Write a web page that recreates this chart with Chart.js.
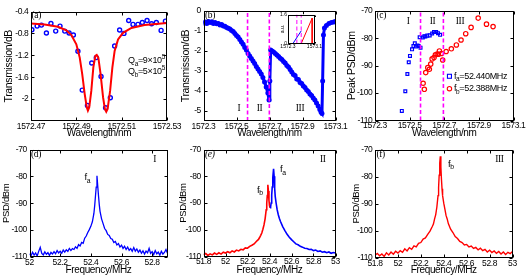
<!DOCTYPE html>
<html><head><meta charset="utf-8">
<script src="https://cdn.jsdelivr.net/npm/chart.js@4"></script>
<style>
html,body{margin:0;padding:0;background:#fff;}
body{width:530px;height:277px;position:relative;overflow:hidden;}
canvas{position:absolute;}
</style></head><body>
<canvas id="pa"></canvas><canvas id="pb"></canvas><canvas id="pbi"></canvas><canvas id="pc"></canvas>
<canvas id="pd"></canvas><canvas id="pe"></canvas><canvas id="pf"></canvas>
<script>
// ---------------- DATA ----------------
// (a) transmission dip, measured points and fit
const aWavelength = [1572.4704,1572.4727,1572.4746,1572.4768,1572.4788,1572.4809,1572.4828,1572.4849,1572.4868,1572.4887,1572.4907,1572.4926,1572.4949,1572.4968,1572.4988,1572.5009,1572.5029,1572.5050,1572.5069,1572.5091,1572.5110,1572.5131,1572.5150,1572.5172,1572.5191,1572.5212,1572.5232,1572.5253,1572.5274,1572.5293];
const aTransmission = [-0.733,-0.667,-0.648,-0.794,-0.618,-0.758,-0.667,-0.758,-0.794,-0.830,-1.127,-1.836,-2.115,-1.342,-1.242,-1.588,-2.158,-1.976,-1.030,-0.739,-0.800,-0.564,-0.636,-0.636,-0.600,-0.564,-0.624,-0.600,-0.745,-0.576];
const aFitWavelength = [1572.4700,1572.4760,1572.4819,1572.4856,1572.4878,1572.4900,1572.4915,1572.4926,1572.4937,1572.4946,1572.4951,1572.4957,1572.4966,1572.4975,1572.4984,1572.4990,1572.4997,1572.5007,1572.5018,1572.5026,1572.5032,1572.5038,1572.5049,1572.5059,1572.5069,1572.5084,1572.5106,1572.5143,1572.5201,1572.5300];
const aFitTransmission = [-0.618,-0.636,-0.679,-0.745,-0.830,-1.000,-1.242,-1.545,-1.909,-2.150,-2.210,-2.150,-1.850,-1.420,-1.210,-1.194,-1.240,-1.545,-1.970,-2.180,-2.230,-2.180,-1.850,-1.420,-1.120,-0.910,-0.790,-0.700,-0.648,-0.612];
const aXTicks = [1572.47,1572.49,1572.51,1572.53];
const aYTicks = [-2,-1.6,-1.2,-0.8,-0.4];

// (b) broad transmission sweep
const bWavelength = [1572.300,1572.310,1572.320,1572.330,1572.340,1572.350,1572.360,1572.370,1572.380,1572.390,1572.400,1572.410,1572.420,1572.430,1572.440,1572.450,1572.460,1572.470,1572.480,1572.490,1572.500,1572.510,1572.520,1572.530,1572.540,1572.550,1572.560,1572.570,1572.580,1572.590,1572.600,1572.610,1572.620,1572.630,1572.640,1572.650,1572.660,1572.670,1572.680,1572.690,1572.697,1572.702,1572.707,1572.715,1572.725,1572.735,1572.745,1572.755,1572.765,1572.775,1572.785,1572.795,1572.805,1572.815,1572.825,1572.835,1572.845,1572.855,1572.865,1572.875,1572.885,1572.895,1572.905,1572.915,1572.925,1572.935,1572.945,1572.955,1572.965,1572.975,1572.985,1572.995,1573.005,1573.012,1573.018,1573.022,1573.027,1573.033,1573.045,1573.060,1573.075,1573.090,1573.100];
const bTransmission = [-0.60,-0.55,-0.62,-0.52,-0.58,-0.54,-0.62,-0.58,-0.64,-0.62,-0.70,-0.68,-0.75,-0.76,-0.82,-0.86,-0.90,-0.98,-1.03,-1.12,-1.22,-1.30,-1.42,-1.55,-1.66,-1.82,-1.95,-2.12,-2.25,-2.38,-2.50,-2.62,-2.78,-2.90,-3.02,-3.15,-3.32,-3.55,-3.80,-4.10,-4.45,-3.50,-1.95,-2.00,-2.05,-2.12,-2.20,-2.28,-2.36,-2.42,-2.52,-2.60,-2.72,-2.80,-2.92,-3.05,-3.18,-3.22,-3.40,-3.42,-3.58,-3.62,-3.75,-3.82,-3.95,-4.02,-4.15,-4.22,-4.35,-4.45,-4.60,-4.75,-4.92,-5.05,-5.12,-3.50,-1.20,-0.85,-0.72,-0.62,-0.58,-0.55,-0.52];
const bBoundaries = [1572.567,1572.699];
const bXTicks = [1572.3,1572.5,1572.7,1572.9,1573.1];
const bYTicks = [-5,-4,-3,-2,-1,0];
// (b) inset
const insetBlueX = [1572.3,1572.45,1572.70];
const insetBlueY = [0,0,0.70];
const insetRedX = [1572.70,1573.03,1573.03];
const insetRedY = [0,1.40,0];
const insetXTicks = [1572.3,1573.1];
const insetYTicks = [0,1.6];

// (c) peak PSD of the two modes
const cWavelengthA = [1572.455,1572.475,1572.487,1572.495,1572.502,1572.514,1572.522,1572.530,1572.537,1572.545,1572.552,1572.558,1572.563,1572.576,1572.585,1572.591,1572.602,1572.616,1572.630,1572.641,1572.653,1572.664,1572.676];
const cPeakA = [-106.5,-99.3,-93.0,-88.7,-86.4,-84.0,-82.8,-81.8,-83.0,-82.6,-82.8,-79.6,-83.4,-79.7,-79.2,-79.3,-79.0,-78.9,-78.2,-77.7,-77.7,-78.1,-78.7];
const cWavelengthB = [1572.578,1572.585,1572.593,1572.605,1572.614,1572.622,1572.630,1572.641,1572.649,1572.659,1572.666,1572.672,1572.684,1572.691,1572.711,1572.741,1572.770,1572.797,1572.824,1572.855,1572.896,1572.944,1572.982];
const cPeakB = [-96.4,-98.6,-92.5,-90.7,-91.3,-89.4,-87.5,-87.0,-86.0,-85.7,-85.8,-84.6,-85.5,-87.9,-84.8,-83.8,-82.4,-80.6,-78.3,-76.0,-72.6,-74.8,-75.7];
const cBoundaries = [1572.563,1572.695];
const cXTicks = [1572.3,1572.5,1572.7,1572.9,1573.1];
const cYTicks = [-110,-100,-90,-80,-70];

// (d) spectrum, region I
const dFreq = [52.00,52.01,52.02,52.03,52.04,52.05,52.06,52.07,52.08,52.09,52.10,52.11,52.12,52.13,52.14,52.15,52.16,52.17,52.18,52.19,52.20,52.21,52.22,52.23,52.24,52.25,52.26,52.27,52.28,52.29,52.30,52.31,52.32,52.33,52.34,52.35,52.36,52.37,52.38,52.39,52.40,52.41,52.42,52.425,52.43,52.435,52.44,52.445,52.45,52.455,52.46,52.47,52.48,52.49,52.50,52.51,52.52,52.53,52.54,52.55,52.56,52.57,52.58,52.59,52.60,52.61,52.62,52.63,52.64,52.65,52.66,52.67,52.68,52.69,52.70,52.71,52.72,52.73,52.74,52.75,52.76,52.77,52.78,52.79,52.80,52.81,52.82,52.83,52.84,52.85,52.86,52.87,52.88,52.89,52.90];
const dPSD = [-108.8,-109.5,-108.2,-109.3,-108.5,-109.6,-107.9,-106.4,-108.7,-109.2,-108.1,-109.0,-108.4,-109.4,-108.3,-108.9,-108.0,-108.8,-107.6,-108.5,-107.9,-108.6,-107.4,-108.2,-107.3,-107.9,-106.8,-107.6,-106.9,-107.2,-106.2,-106.8,-105.4,-105.9,-104.6,-104.9,-103.0,-102.2,-100.9,-99.8,-98.6,-96.9,-93.8,-91.0,-87.5,-84.0,-79.8,-83.6,-87.2,-90.5,-93.0,-95.8,-97.6,-99.4,-100.2,-101.6,-102.0,-103.1,-103.4,-104.6,-104.2,-105.5,-105.0,-106.3,-105.6,-106.8,-106.0,-107.2,-106.3,-107.5,-106.9,-107.9,-106.5,-107.8,-107.0,-108.2,-107.4,-108.6,-107.7,-108.9,-107.8,-108.4,-106.8,-108.7,-108.0,-109.1,-107.6,-108.8,-108.2,-109.3,-107.9,-108.9,-108.3,-107.2,-108.6];
const dXTicks = [52,52.2,52.4,52.6,52.8];

// (e) spectrum, region II (red: f_b side, blue: f_a side)
const eFreqB = [51.80,51.82,51.84,51.86,51.88,51.90,51.92,51.94,51.96,51.98,52.00,52.02,52.04,52.06,52.08,52.10,52.12,52.14,52.16,52.18,52.20,52.22,52.24,52.26,52.28,52.30,52.31,52.32,52.33,52.34,52.35,52.36,52.37,52.375,52.38,52.385,52.39,52.395,52.40,52.405];
const ePSDB = [-109.3,-108.9,-109.6,-109.0,-109.4,-108.7,-109.2,-108.6,-109.1,-108.4,-108.7,-108.2,-108.6,-107.9,-108.3,-107.6,-107.9,-107.3,-107.5,-106.8,-106.9,-106.2,-105.8,-105.3,-104.4,-103.6,-102.9,-102.1,-101.2,-99.8,-98.2,-95.9,-92.5,-90.0,-87.2,-83.2,-85.5,-89.0,-91.0,-91.8];
const eFreqA = [52.405,52.41,52.415,52.42,52.425,52.43,52.437,52.442,52.447,52.452,52.46,52.47,52.48,52.49,52.50,52.52,52.54,52.56,52.58,52.60,52.62,52.64,52.66,52.68,52.70,52.72,52.74,52.76,52.78,52.80,52.82,52.84,52.86,52.88,52.90,52.92,52.94,52.96,52.98,53.00];
const ePSDA = [-91.8,-91.5,-90.0,-87.0,-84.0,-80.5,-77.2,-80.0,-84.5,-87.5,-90.0,-92.6,-94.4,-95.8,-96.9,-98.8,-100.3,-101.7,-102.8,-103.7,-104.5,-105.3,-105.6,-106.2,-106.5,-106.9,-107.0,-107.4,-107.3,-107.8,-107.6,-108.1,-107.9,-108.4,-108.2,-108.6,-108.3,-108.8,-108.5,-108.7];

// (f) spectrum, region III
const fFreq = [51.80,51.82,51.84,51.86,51.88,51.90,51.92,51.94,51.96,51.98,52.00,52.02,52.04,52.06,52.08,52.10,52.12,52.14,52.16,52.18,52.20,52.22,52.24,52.26,52.28,52.30,52.31,52.32,52.33,52.34,52.35,52.355,52.36,52.365,52.37,52.375,52.38,52.385,52.39,52.40,52.41,52.42,52.43,52.44,52.46,52.48,52.50,52.52,52.54,52.56,52.58,52.60,52.62,52.64,52.66,52.68,52.70,52.72,52.74,52.76,52.78,52.80,52.82,52.84,52.86,52.88,52.90,52.92,52.94,52.96,52.98,53.00];
const fPSD = [-109.0,-108.3,-109.2,-108.5,-109.4,-108.1,-108.9,-107.8,-108.6,-107.5,-108.2,-107.3,-107.9,-106.6,-107.4,-106.2,-106.8,-105.5,-105.9,-104.6,-104.3,-103.0,-102.6,-101.3,-100.1,-98.4,-97.5,-95.6,-94.0,-91.2,-87.0,-84.0,-79.5,-75.0,-72.5,-76.5,-81.0,-84.5,-87.0,-89.8,-92.0,-94.3,-95.6,-97.3,-99.4,-100.6,-102.1,-102.8,-103.9,-104.3,-105.2,-105.0,-105.9,-105.6,-106.5,-106.1,-107.0,-106.4,-107.3,-106.8,-107.8,-107.1,-108.0,-107.4,-108.3,-107.6,-108.5,-107.8,-108.7,-107.9,-108.4,-107.6];
const efXTicks = [51.8,52,52.2,52.4,52.6,52.8,53];
const psdYTicks = [-110,-100,-90,-80,-70];

// ---------------- STYLE / HELPERS ----------------
const SANS = "'Liberation Sans', Arial, Helvetica, sans-serif";
const SERIF = "'Liberation Serif', 'Times New Roman', serif";
const BLUE = '#0000ff', RED = '#ff0000', MAG = '#ff00ff';

const pts = (xs, ys) => xs.map((x, i) => ({x, y: ys[i]}));

function drawRich(ctx, px, py, t) {
  const size = t.size, fam = t.family, st = t.style || '';
  const fontFor = k => `${st} ${k === 'n' ? size : size * 0.72}px ${fam}`;
  let w = 0;
  t.parts.forEach(([s, k]) => { ctx.font = fontFor(k); w += ctx.measureText(s).width; });
  let cx = t.align === 'center' ? px - w / 2 : px;
  ctx.fillStyle = '#000'; ctx.textBaseline = 'middle'; ctx.textAlign = 'left';
  t.parts.forEach(([s, k]) => {
    ctx.font = fontFor(k);
    const dy = k === 'sub' ? size * 0.38 : (k === 'sup' ? -size * 0.38 : 0);
    ctx.fillText(s, cx, py + dy);
    cx += ctx.measureText(s).width;
  });
}

const framePlugin = {
  id: 'frame',
  beforeDraw(chart, args, o) {
    const c = chart.ctx;
    if ('letterSpacing' in c) c.letterSpacing = (o && o.ls) || '-0.35px';
    if (o && o.fill) {
      const a = chart.chartArea;
      c.save(); c.fillStyle = o.fill; c.fillRect(a.left, a.top, a.right - a.left, a.bottom - a.top); c.restore();
    }
  },
  afterDraw(chart, args, o) {
    const {ctx, chartArea: a, scales: {x, y}} = chart;
    ctx.save();
    ctx.strokeStyle = '#000'; ctx.lineWidth = 1; ctx.setLineDash([]);
    const L = Math.round(a.left) + 0.5, R = Math.round(a.right) - 0.5, T = Math.round(a.top) + 0.5, B = Math.round(a.bottom) - 0.5;
    ctx.strokeRect(L, T, R - L, B - T);
    const tl = (o && o.tick) || 3;
    ctx.beginPath();
    x.ticks.forEach(t => { const p = Math.round(x.getPixelForValue(t.value)) + 0.5; ctx.moveTo(p, B); ctx.lineTo(p, B - tl); ctx.moveTo(p, T); ctx.lineTo(p, T + tl); });
    y.ticks.forEach(t => { const p = Math.round(y.getPixelForValue(t.value)) + 0.5; ctx.moveTo(L, p); ctx.lineTo(L + tl, p); ctx.moveTo(R, p); ctx.lineTo(R - tl, p); });
    ctx.stroke();
    ((o && o.legend) || []).forEach(l => {
      const px = x.getPixelForValue(l.x), py = y.getPixelForValue(l.y);
      ctx.strokeStyle = l.color; ctx.lineWidth = 1.1;
      if (l.marker === 'rect') { ctx.strokeRect(px - 2, py - 2, 4, 4); }
      else { ctx.beginPath(); ctx.arc(px, py, 2.2, 0, Math.PI * 2); ctx.stroke(); }
    });
    ((o && o.texts) || []).forEach(t => drawRich(ctx, x.getPixelForValue(t.x), y.getPixelForValue(t.y), t));
    ctx.restore();
  }
};

function panel(id, rect, area, s) {
  const cv = document.getElementById(id);
  cv.width = rect[2]; cv.height = rect[3];
  Object.assign(cv.style, {left: rect[0] + 'px', top: rect[1] + 'px', width: rect[2] + 'px', height: rect[3] + 'px'});
  const yW = area[0] - rect[0], padTop = area[1] - rect[1], padRight = rect[0] + rect[2] - area[2], xH = rect[1] + rect[3] - area[3];
  const tf = s.tickFont || {family: SANS, size: 8.5, lineHeight: 1};
  const xts = s.xTitleSize || 10, yts = s.yTitleSize || 10.5;
  return new Chart(cv, {
    type: 'scatter',
    data: {datasets: s.datasets},
    options: {
      responsive: false, animation: false, devicePixelRatio: 1, events: [],
      layout: {padding: {left: 0, top: padTop, right: padRight, bottom: 0}},
      plugins: {legend: {display: false}, tooltip: {enabled: false}, frame: s.frame || {}},
      scales: {
        x: {
          type: 'linear', min: s.xMin, max: s.xMax, bounds: 'data',
          afterBuildTicks: sc => { sc.ticks = s.xTicks.map(v => ({value: v})); },
          afterFit: sc => { sc.height = xH; },
          grid: {display: false, drawTicks: false}, border: {display: false},
          ticks: {color: '#000', font: tf, padding: s.xTickPad ?? 1, maxRotation: 0, minRotation: 0, autoSkip: false, callback: v => String(v)},
          title: {display: !!s.xTitle, text: s.xTitle, color: '#000', font: {family: SANS, size: xts, lineHeight: 1},
                  padding: {top: 0, bottom: s.xTitle ? rect[1] + rect[3] - s.xTitleY - xts / 2 : 0}}
        },
        y: {
          type: 'linear', min: s.yMin, max: s.yMax, bounds: 'data',
          afterBuildTicks: sc => { sc.ticks = s.yTicks.map(v => ({value: v})); },
          afterFit: sc => { sc.width = yW; },
          grid: {display: false, drawTicks: false}, border: {display: false},
          ticks: {color: '#000', font: tf, padding: s.yTickPad ?? 2.5, autoSkip: false, callback: v => String(v)},
          title: {display: !!s.yTitle, text: s.yTitle, color: '#000', font: {family: SANS, size: yts, lineHeight: 1},
                  padding: {top: s.yTitle ? s.yTitleX - rect[0] - yts / 2 : 0, bottom: 0}}
        }
      }
    },
    plugins: [framePlugin]
  });
}

const vline = (xv, y0, y1, w) => ({data: [{x: xv, y: y0}, {x: xv, y: y1}], showLine: true, borderColor: MAG, borderWidth: w || 1.6, borderDash: [4, 2.5], pointRadius: 0, pointHoverRadius: 0});
const curve = (xs, ys, color, w) => ({data: pts(xs, ys), showLine: true, borderColor: color, borderWidth: w, pointRadius: 0, pointHoverRadius: 0, tension: 0});
const sub = (a, b, extra) => [[a, 'n'], [b, 'sub']].concat(extra || []);

// ---------------- PANELS ----------------
// (a)
panel('pa', [0, 0, 186, 142], [31, 11.5, 167, 121], {
  xMin: 1572.47, xMax: 1572.53, yMin: -2.4, yMax: -0.4, xTicks: aXTicks, yTicks: aYTicks,
  xTitle: 'Wavelength/nm', xTitleY: 133.5, yTitle: 'Transmission/dB', yTitleX: 9,
  datasets: [
    curve(aFitWavelength, aFitTransmission, RED, 2),
    {data: pts(aWavelength, aTransmission), showLine: false, pointStyle: 'circle', pointRadius: 2, pointBorderWidth: 1.4, pointBorderColor: BLUE, pointBackgroundColor: 'rgba(0,0,0,0)', pointHoverRadius: 0}
  ],
  frame: {texts: [
    {x: 1572.4702, y: -0.473, parts: [['(a)', 'n']], family: SERIF, size: 9.5},
    {x: 1572.5128, y: -1.304, parts: [['Q', 'n'], ['a', 'sub'], ['=9×10', 'n'], ['5', 'sup']], family: SANS, size: 9},
    {x: 1572.5128, y: -1.496, parts: [['Q', 'n'], ['b', 'sub'], ['=5×10', 'n'], ['5', 'sup']], family: SANS, size: 9}
  ]}
});

// (b)
panel('pb', [172, 0, 178, 142], [203.5, 11, 335.5, 121], {
  xMin: 1572.3, xMax: 1573.1, yMin: -5.5, yMax: 0, xTicks: bXTicks, yTicks: bYTicks,
  xTitle: 'Wavelength/nm', xTitleY: 133.5, yTitle: 'Transmission/dB', yTitleX: 186,
  datasets: [
    vline(bBoundaries[0], -5.5, 0), vline(bBoundaries[1], -5.5, 0),
    {data: pts(bWavelength, bTransmission), showLine: true, borderColor: BLUE, borderWidth: 3, pointStyle: 'circle', pointRadius: 2.5, pointBorderWidth: 0, pointBackgroundColor: BLUE, pointHoverRadius: 0, tension: 0}
  ],
  frame: {texts: [
    {x: 1572.309, y: -0.225, parts: [['(b)', 'n']], family: SERIF, size: 9.5},
    {x: 1572.515, y: -4.85, parts: [['I', 'n']], family: SERIF, size: 9.5, align: 'center'},
    {x: 1572.640, y: -4.85, parts: [['II', 'n']], family: SERIF, size: 9.5, align: 'center'},
    {x: 1572.885, y: -4.85, parts: [['III', 'n']], family: SERIF, size: 9.5, align: 'center'}
  ]}
});

// (b) inset
panel('pbi', [266, 5, 60, 50], [288, 14.5, 314.5, 43.5], {
  xMin: 1572.3, xMax: 1573.1, yMin: 0, yMax: 1.6, xTicks: insetXTicks, yTicks: insetYTicks,
  tickFont: {family: SANS, size: 5, lineHeight: 1}, xTickPad: 0.5, yTickPad: 1,
  yTitle: 'a.u.', yTitleX: 283, yTitleSize: 5,
  datasets: [
    vline(bBoundaries[0], 0, 1.6, 1), vline(bBoundaries[1], 0, 1.6, 1),
    curve(insetRedX, insetRedY, RED, 1), curve(insetBlueX, insetBlueY, BLUE, 1)
  ],
  frame: {fill: '#fff', tick: 1.5, ls: '0px'}
});

// (c)
panel('pc', [342, 0, 188, 142], [375, 11, 513.5, 120.5], {
  xMin: 1572.3, xMax: 1573.1, yMin: -110, yMax: -70, xTicks: cXTicks, yTicks: cYTicks,
  xTitle: 'Wavelength/nm', xTitleY: 133.5, yTitle: 'Peak PSD/dBm', yTitleX: 352.5,
  datasets: [
    vline(cBoundaries[0], -110, -70), vline(cBoundaries[1], -110, -70),
    {data: pts(cWavelengthA, cPeakA), showLine: false, pointStyle: 'rect', pointRadius: 2, pointBorderWidth: 1.2, pointBorderColor: BLUE, pointBackgroundColor: 'rgba(0,0,0,0)', pointHoverRadius: 0},
    {data: pts(cWavelengthB, cPeakB), showLine: false, pointStyle: 'circle', pointRadius: 2.2, pointBorderWidth: 1.2, pointBorderColor: RED, pointBackgroundColor: 'rgba(0,0,0,0)', pointHoverRadius: 0}
  ],
  frame: {
    legend: [{x: 1572.730, y: -93.85, marker: 'rect', color: BLUE}, {x: 1572.730, y: -98.37, marker: 'circle', color: RED}],
    texts: [
      {x: 1572.309, y: -71.8, parts: [['(c)', 'n']], family: SERIF, size: 9.5},
      {x: 1572.491, y: -73.85, parts: [['I', 'n']], family: SERIF, size: 9.5, align: 'center'},
      {x: 1572.632, y: -73.85, parts: [['II', 'n']], family: SERIF, size: 9.5, align: 'center'},
      {x: 1572.791, y: -73.7, parts: [['III', 'n']], family: SERIF, size: 9.5, align: 'center'},
      {x: 1572.756, y: -93.85, parts: sub('f', 'a', [['=52.440MHz', 'n']]), family: SANS, size: 9},
      {x: 1572.756, y: -98.37, parts: sub('f', 'b', [['=52.388MHz', 'n']]), family: SANS, size: 9}
    ]}
});

// (d)
panel('pd', [0, 140, 186, 137], [29.5, 149.5, 167.5, 257], {
  xMin: 52, xMax: 52.9, yMin: -110, yMax: -70, xTicks: dXTicks, yTicks: psdYTicks,
  xTitle: 'Frequency/MHz', xTitleY: 270, yTitle: 'PSD/dBm', yTitleX: 6.5, yTitleSize: 9.5,
  datasets: [curve(dFreq, dPSD, BLUE, 1.3)],
  frame: {texts: [
    {x: 52.01, y: -71.7, parts: [['(d)', 'n']], family: SERIF, size: 9.5},
    {x: 52.359, y: -80.4, parts: sub('f', 'a'), family: SANS, size: 9.5},
    {x: 52.817, y: -73.9, parts: [['I', 'n']], family: SERIF, size: 9.5, align: 'center'}
  ]}
});

// (e)
panel('pe', [172, 140, 178, 137], [203.5, 149.5, 335.5, 256.5], {
  xMin: 51.8, xMax: 53, yMin: -110, yMax: -70, xTicks: efXTicks, yTicks: psdYTicks,
  xTitle: 'Frequency/MHz', xTitleY: 270, yTitle: 'PSD/dBm', yTitleX: 183, yTitleSize: 9.5,
  datasets: [curve(eFreqA, ePSDA, BLUE, 1.6), curve(eFreqB, ePSDB, RED, 1.6)],
  frame: {texts: [
    {x: 51.814, y: -71.7, parts: [['(e)', 'n']], family: SERIF, size: 9.5, style: 'italic'},
    {x: 52.286, y: -85.1, parts: sub('f', 'b'), family: SANS, size: 9.5},
    {x: 52.495, y: -77.3, parts: sub('f', 'a'), family: SANS, size: 9.5},
    {x: 52.884, y: -73.7, parts: [['II', 'n']], family: SERIF, size: 9.5, align: 'center'}
  ]}
});

// (f)
panel('pf', [342, 140, 188, 137], [375, 149.5, 512.5, 258], {
  xMin: 51.8, xMax: 53, yMin: -110, yMax: -70, xTicks: efXTicks, yTicks: psdYTicks,
  xTitle: 'Frequency/MHz', xTitleY: 270, yTitle: 'PSD/dBm', yTitleX: 356, yTitleSize: 9.5,
  datasets: [curve(fFreq, fPSD, RED, 1.4)],
  frame: {texts: [
    {x: 51.813, y: -71.7, parts: [['(f)', 'n']], family: SERIF, size: 9.5},
    {x: 52.437, y: -75.3, parts: sub('f', 'b'), family: SANS, size: 9.5},
    {x: 52.886, y: -73.7, parts: [['III', 'n']], family: SERIF, size: 9.5, align: 'center'}
  ]}
});
</script>
</body></html>
